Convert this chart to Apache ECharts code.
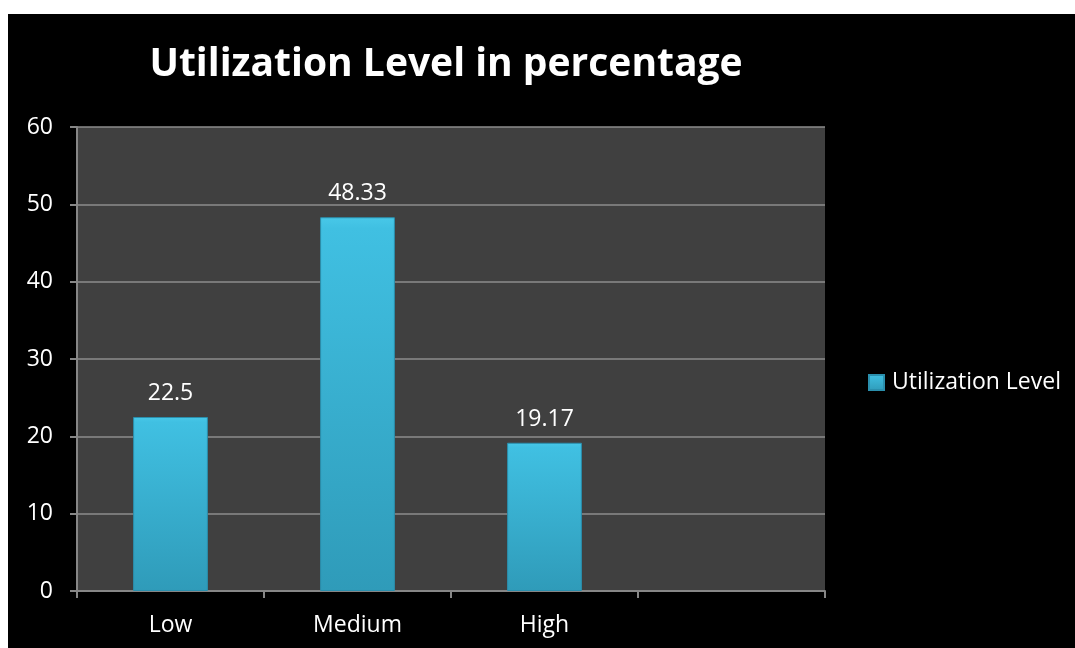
<!DOCTYPE html>
<html>
<head>
<meta charset="utf-8">
<script src="https://cdn.jsdelivr.net/npm/echarts@6/dist/echarts.min.js"></script>
<style>
  html, body { margin: 0; padding: 0; background: #fff; }
  #chart { position: absolute; left: 8px; top: 14px; width: 1067px; height: 634px; background: #000; }
</style>
</head>
<body>
<div id="chart"></div>
<script>
// data
const categories = ["Low", "Medium", "High", ""];
const values = [22.5, 48.33, 19.17, null];
const seriesName = "Utilization Level";
const titleText = "Utilization Level in percentage";

const chart = echarts.init(document.getElementById("chart"));
const font = "'Open Sans', 'Noto Sans', sans-serif";
const barColor = new echarts.graphic.LinearGradient(0, 0, 0, 1, [
  { offset: 0, color: "#48c8e8" },
  { offset: 0.03, color: "#40c0e2" },
  { offset: 1, color: "#2f9bb9" }
]);

const option = {
  backgroundColor: "#000",
  animation: false,
  title: {
    text: titleText,
    left: 433, top: 26,
    textAlign: "center",
    textStyle: { color: "#fff", fontSize: 39, fontWeight: "bold", fontFamily: font }
  },
  legend: {
    data: [seriesName],
    left: 855, top: 352,
    itemWidth: 15, itemHeight: 15,
    icon: "rect",
    textStyle: { color: "#fff", fontSize: 23, fontFamily: font, padding: [0, 0, 0, 3] }
  },
  grid: {
    left: 69, top: 113, right: 250, bottom: 57,
    show: true, backgroundColor: "#404040", borderWidth: 0,
    containLabel: false
  },
  xAxis: {
    type: "category",
    data: categories,
    axisLine: { lineStyle: { color: "#868686", width: 2 } },
    axisTick: { show: true, length: 7, lineStyle: { color: "#868686", width: 2 } },
    axisLabel: { color: "#fff", fontSize: 23, fontFamily: font, margin: 23 }
  },
  yAxis: {
    type: "value",
    min: 0, max: 60, interval: 10,
    axisLine: { show: true, lineStyle: { color: "#868686", width: 2 } },
    axisTick: { show: true, length: 7, lineStyle: { color: "#868686", width: 2 } },
    axisLabel: { color: "#fff", fontSize: 23, fontFamily: font, margin: 24 },
    splitLine: { lineStyle: { color: "#8c8c8c", width: 1.5 } }
  },
  series: [{
    name: seriesName,
    type: "bar",
    data: values,
    barWidth: "40%",
    itemStyle: { color: barColor, borderColor: "#2a8fad", borderWidth: 1 },
    label: {
      show: true, position: "top", distance: 12,
      color: "#fff", fontSize: 23, fontFamily: font
    }
  }]
};
chart.setOption(option);
</script>
</body>
</html>
